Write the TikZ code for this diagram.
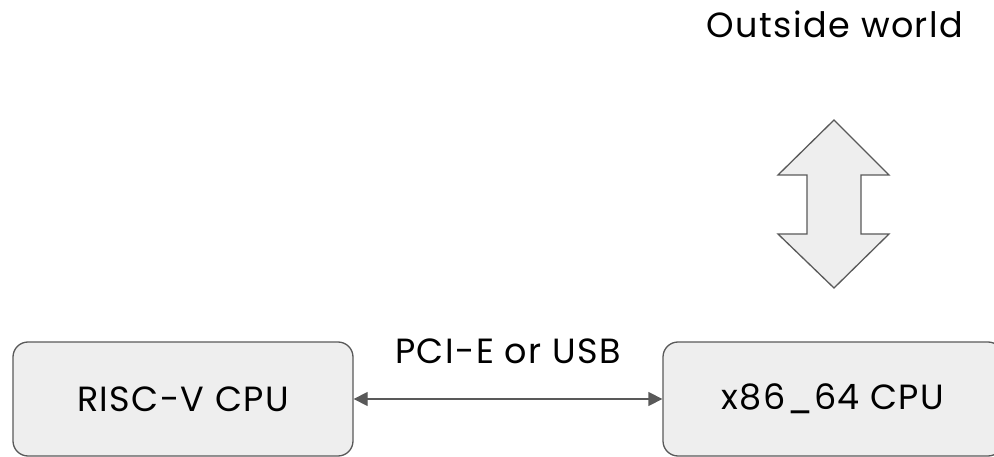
\documentclass[tikz,border=0pt]{standalone}
\usepackage{fontspec}
\setmainfont{Poppins}[LetterSpace=4]
\usetikzlibrary{arrows.meta}
\definecolor{boxfill}{HTML}{EEEEEE}
\definecolor{edge}{HTML}{595959}
\tikzset{
  cpubox/.style={draw=edge, fill=boxfill, line width=1.3pt, rounded corners=15pt,
    minimum width=340pt, minimum height=114pt, inner sep=0pt, font=\fontsize{35}{40}\selectfont},
  lbl/.style={inner sep=0pt, font=\fontsize{35}{40}\selectfont},
  link/.style={draw=edge, line width=1.3pt, {Triangle[length=14pt,width=14pt]}-{Triangle[length=14pt,width=14pt]}}
}
\begin{document}
\begin{tikzpicture}[x=1pt,y=-1pt]
\useasboundingbox (0,0) rectangle (994,457);
\clip (0,0) rectangle (994,457);
\node[cpubox] (risc) at (183,399) {RISC-V CPU};
\node[cpubox] (x86) at (833,399) {x86\_64 CPU};
\node[lbl] (bus) at (508,351) {PCI-E or USB};
\node[lbl] (world) at (835,24) {Outside world};
\draw[link] (risc.east) -- (x86.west);
\draw[draw=edge, fill=boxfill, line width=1.3pt]
  (834,120) -- (889,175) -- (861,175) -- (861,234) -- (889,234) -- (834,288)
  -- (778,234) -- (807,234) -- (807,175) -- (778,175) -- cycle;
\end{tikzpicture}
\end{document}
